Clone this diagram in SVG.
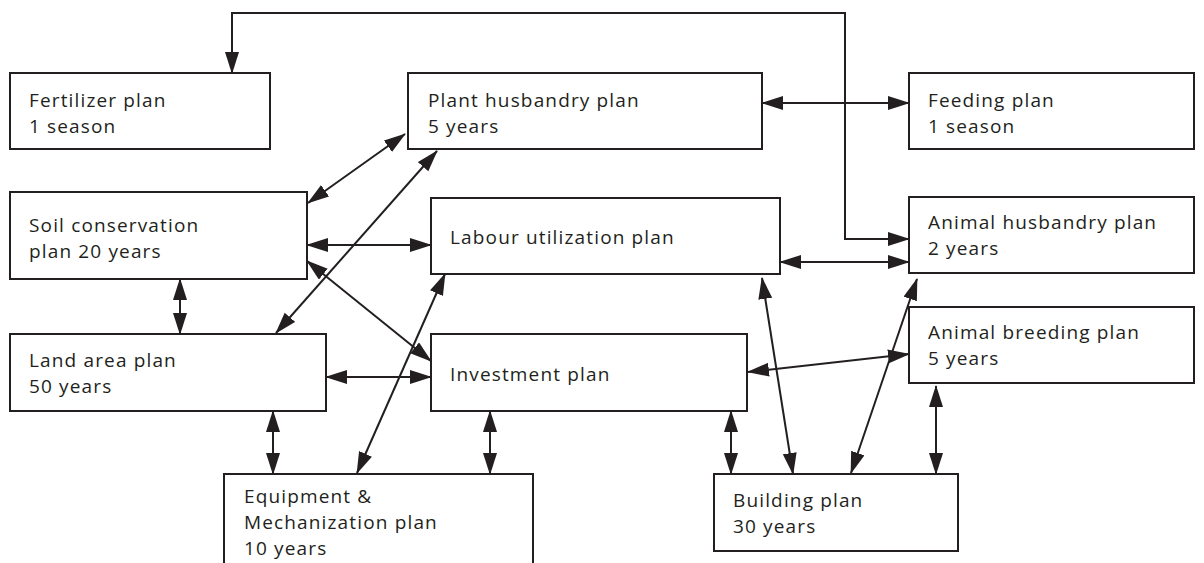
<svg xmlns="http://www.w3.org/2000/svg" width="1204" height="563" viewBox="0 0 1204 563">
<style>
.box{fill:#fff;stroke:#231f20;stroke-width:2}
.t{font-family:"Open Sans","Noto Sans","Liberation Sans",sans-serif;font-size:19px;letter-spacing:1.15px;fill:#231f20}
.c{fill:none;stroke:#231f20;stroke-width:2;marker-start:url(#ah);marker-end:url(#ah)}
</style>
<defs>
<marker id="ah" markerUnits="userSpaceOnUse" markerWidth="24" markerHeight="16" refX="21" refY="7" orient="auto-start-reverse">
<path d="M0,0 L22,7 L0,14 z" fill="#231f20"/>
</marker>
</defs>
<rect width="1204" height="563" fill="#fff"/>
<g id="fertilizer"><rect class="box" x="10" y="73" width="260" height="76"/><text class="t" x="29" y="107">Fertilizer plan</text><text class="t" x="29" y="133">1 season</text></g>
<g id="plant"><rect class="box" x="408" y="73" width="354" height="76"/><text class="t" x="428" y="107">Plant husbandry plan</text><text class="t" x="428" y="133">5 years</text></g>
<g id="feeding"><rect class="box" x="909" y="73" width="285" height="76"/><text class="t" x="928" y="107">Feeding plan</text><text class="t" x="928" y="133">1 season</text></g>
<g id="soil"><rect class="box" x="10" y="192" width="297" height="87"/><text class="t" x="29" y="232">Soil conservation</text><text class="t" x="29" y="258">plan 20 years</text></g>
<g id="labour"><rect class="box" x="431" y="198" width="349" height="76"/><text class="t" x="450" y="244">Labour utilization plan</text></g>
<g id="animalhusbandry"><rect class="box" x="909" y="197" width="285" height="76"/><text class="t" x="928" y="229">Animal husbandry plan</text><text class="t" x="928" y="255">2 years</text></g>
<g id="land"><rect class="box" x="10" y="334" width="316" height="77"/><text class="t" x="29" y="367">Land area plan</text><text class="t" x="29" y="393">50 years</text></g>
<g id="investment"><rect class="box" x="431" y="334" width="316" height="77"/><text class="t" x="450" y="381">Investment plan</text></g>
<g id="breeding"><rect class="box" x="909" y="307" width="285" height="76"/><text class="t" x="928" y="339">Animal breeding plan</text><text class="t" x="928" y="365">5 years</text></g>
<g id="equipment"><rect class="box" x="224" y="474" width="309" height="110"/><text class="t" x="244" y="503">Equipment &amp;</text><text class="t" x="244" y="529">Mechanization plan</text><text class="t" x="244" y="555">10 years</text></g>
<g id="building"><rect class="box" x="714" y="474" width="244" height="77"/><text class="t" x="733" y="507">Building plan</text><text class="t" x="733" y="533">30 years</text></g>
<g id="connectors">
<path class="c" d="M232,73 L232,13 L845,13 L845,239 L909,239"/>
<path class="c" d="M762,103 L909,103"/>
<path class="c" d="M308,203 L405,134"/>
<path class="c" d="M276,333 L437,151"/>
<path class="c" d="M307,245 L431,245"/>
<path class="c" d="M307,261 L431,361"/>
<path class="c" d="M180,279 L180,334"/>
<path class="c" d="M780,262 L909,262"/>
<path class="c" d="M326,377 L431,377"/>
<path class="c" d="M357,473 L445,274"/>
<path class="c" d="M273,411 L273,474"/>
<path class="c" d="M490,411 L490,474"/>
<path class="c" d="M731,411 L731,474"/>
<path class="c" d="M762,278 L793,474"/>
<path class="c" d="M748,372 L909,354"/>
<path class="c" d="M851,473 L917,279"/>
<path class="c" d="M936,386 L936,474"/>
</g>
</svg>
